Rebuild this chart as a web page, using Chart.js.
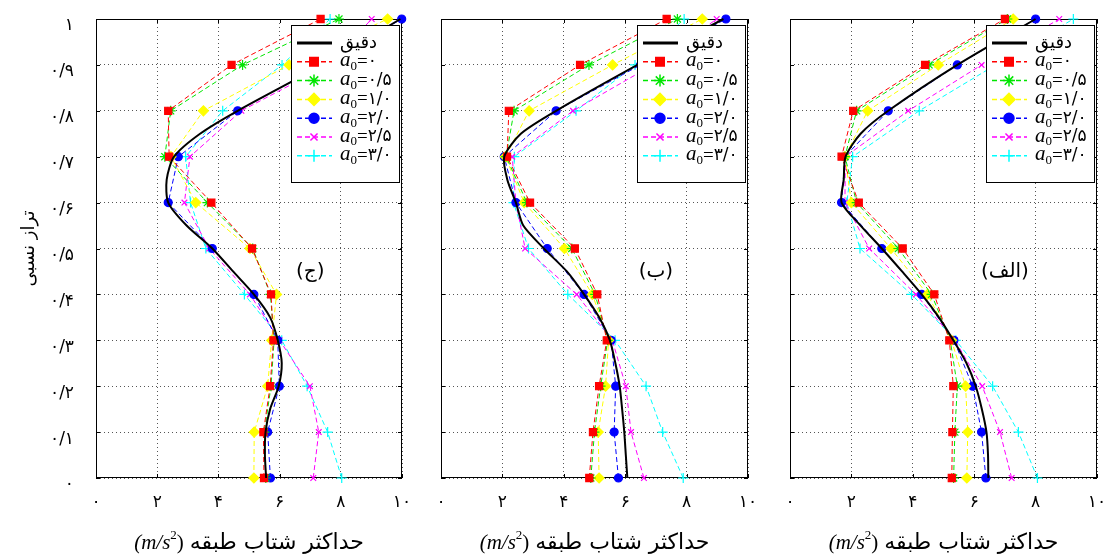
<!DOCTYPE html>
<html>
<head>
<meta charset="utf-8">
<script src="https://cdn.jsdelivr.net/npm/chart.js@4.4.1/dist/chart.umd.min.js"></script>
<style>
  body { margin: 0; background: #fff; width: 1106px; height: 556px; overflow: hidden; position: relative; }
  .panel { position: absolute; top: 0; height: 556px; }
</style>
</head>
<body>
<div class="panel" style="left:0;width:410px"><canvas id="chartJim" width="410" height="556"></canvas></div>
<div class="panel" style="left:410px;width:345px"><canvas id="chartBe" width="345" height="556"></canvas></div>
<div class="panel" style="left:755px;width:351px"><canvas id="chartAlef" width="351" height="556"></canvas></div>
<script>
// relative height levels of the markers and of the exact curve
var levels = [0, 0.1, 0.2, 0.3, 0.4, 0.5, 0.6, 0.7, 0.8, 0.9, 1.0];
var exactLevels = [0, 0.05, 0.1, 0.15, 0.2, 0.25, 0.3, 0.35, 0.4, 0.45, 0.5, 0.55, 0.6, 0.65, 0.7, 0.75, 0.8, 0.9, 1.0];

var exactLabel = 'دقیق';
var a0Labels = ['۰', '۰/۵', '۱/۰', '۲/۰', '۲/۵', '۳/۰'];
var xTickLabels = ['۰', '۲', '۴', '۶', '۸', '۱۰'];
var yTickLabels = ['۰', '۰/۱', '۰/۲', '۰/۳', '۰/۴', '۰/۵', '۰/۶', '۰/۷', '۰/۸', '۰/۹', '۱'];
var xTitle = 'حداکثر شتاب طبقه';
var yTitle = 'تراز نسبی';
var panelNames = ['(ج)', '(ب)', '(الف)'];

// panel (ج)
var jimExact = [5.56, 5.52, 5.54, 5.69, 5.97, 6.07, 5.94, 5.69, 5.16, 4.48, 3.80, 2.96, 2.36, 2.31, 2.55, 3.40, 4.63, 7.40, 9.95];
var jimA00 = [5.49, 5.47, 5.69, 5.80, 5.72, 5.10, 3.77, 2.39, 2.36, 4.43, 7.34];
var jimA05 = [5.55, 5.50, 5.72, 5.82, 5.70, 5.12, 3.64, 2.25, 2.44, 4.79, 7.94];
var jimA10 = [5.16, 5.17, 5.61, 5.74, 5.90, 5.03, 3.26, 2.45, 3.51, 6.31, 9.53];
var jimA20 = [5.70, 5.61, 5.99, 5.94, 5.16, 3.80, 2.36, 2.69, 4.63, 7.40, 9.99];
var jimA25 = [7.10, 7.28, 6.99, 6.00, 5.03, 3.70, 2.89, 3.07, 4.75, 7.60, 9.01];
var jimA30 = [8.03, 7.57, 6.90, 6.07, 4.85, 3.59, 3.09, 2.93, 4.14, 6.08, 7.65];

// panel (ب)
var beExact = [6.07, 6.02, 5.97, 5.90, 5.82, 5.68, 5.50, 5.15, 4.66, 4.10, 3.35, 2.68, 2.44, 2.16, 2.06, 2.60, 3.75, 6.40, 9.20];
var beA00 = [4.83, 4.95, 5.15, 5.40, 5.09, 4.36, 2.90, 2.15, 2.21, 4.53, 7.35];
var beA05 = [4.88, 5.00, 5.20, 5.43, 5.02, 4.26, 2.80, 2.12, 2.38, 4.82, 7.70];
var beA10 = [5.15, 5.12, 5.36, 5.46, 4.93, 4.02, 2.71, 2.10, 2.87, 5.59, 8.51];
var beA20 = [5.78, 5.64, 5.69, 5.54, 4.66, 3.46, 2.44, 2.06, 3.75, 6.50, 9.28];
var beA25 = [6.61, 6.19, 6.02, 5.58, 4.42, 2.74, 2.44, 2.32, 4.30, 6.90, 8.98];
var beA30 = [7.89, 7.22, 6.68, 5.67, 4.13, 2.85, 2.36, 2.39, 4.40, 6.32, 7.92];

// panel (الف)
var alefExact = [6.46, 6.45, 6.40, 6.25, 6.05, 5.75, 5.32, 4.85, 4.29, 3.65, 2.99, 2.30, 1.68, 1.75, 1.81, 2.30, 3.20, 5.45, 8.00];
var alefA00 = [5.27, 5.29, 5.32, 5.19, 4.70, 3.67, 2.24, 1.68, 2.06, 4.40, 7.00];
var alefA05 = [5.33, 5.37, 5.45, 5.22, 4.61, 3.53, 2.17, 1.79, 2.17, 4.53, 7.08];
var alefA10 = [5.76, 5.79, 5.72, 5.26, 4.48, 3.29, 2.00, 1.79, 2.53, 4.83, 7.27];
var alefA20 = [6.38, 6.24, 5.95, 5.34, 4.29, 2.99, 1.68, 1.79, 3.20, 5.45, 8.00];
var alefA25 = [7.22, 6.84, 6.26, 5.37, 4.10, 2.58, 1.79, 1.80, 3.85, 6.24, 8.77];
var alefA30 = [8.06, 7.44, 6.60, 5.40, 3.96, 2.28, 1.85, 2.04, 4.21, 6.70, 9.23];

var seriesColors = ['#ff0000', '#00e600', '#ffff00', '#0000ff', '#ff00ff', '#00ffff'];
var seriesPoints = ['rect', 'star', 'rectRot', 'circle', 'crossRot', 'cross'];
var seriesRadius = [5, 5, 5, 4, 4, 5];

// frame, inward ticks, legend, panel name and x title
var decorations = {
  id: 'decorations',
  beforeDatasetsDraw: function(chart) {
    var ctx = chart.ctx, a = chart.chartArea;
    var xs = chart.scales.x, ys = chart.scales.y;
    ctx.save();
    ctx.strokeStyle = '#000';
    ctx.lineWidth = 1;
    ctx.strokeRect(Math.round(a.left) + 0.5, Math.round(a.top) + 0.5, Math.round(a.right - a.left) - 1, Math.round(a.bottom - a.top) - 1);
    ctx.beginPath();
    xs.ticks.forEach(function(t) {
      var px = Math.round(xs.getPixelForValue(t.value)) + 0.5;
      ctx.moveTo(px, a.top); ctx.lineTo(px, a.top + 4);
      ctx.moveTo(px, a.bottom); ctx.lineTo(px, a.bottom - 4);
    });
    ys.ticks.forEach(function(t) {
      var py = Math.round(ys.getPixelForValue(t.value)) + 0.5;
      ctx.moveTo(a.left, py); ctx.lineTo(a.left + 4, py);
      ctx.moveTo(a.right, py); ctx.lineTo(a.right - 4, py);
    });
    ctx.stroke();
    ctx.restore();
  },
  afterDatasetsDraw: function(chart, args, opts) {
    var ctx = chart.ctx, a = chart.chartArea;
    var xs = chart.scales.x, ys = chart.scales.y;
    ctx.save();

    // legend box
    var w = 108, h = 157;
    var left = Math.round(a.right - 3 - w), top = Math.round(a.top + 6);
    ctx.fillStyle = '#fff';
    ctx.fillRect(left, top, w, h);
    ctx.strokeStyle = '#000';
    ctx.lineWidth = 1;
    ctx.strokeRect(left + 0.5, top + 0.5, w, h);
    chart.data.datasets.forEach(function(ds, i) {
      var y = top + 18 + i * 18.8;
      ctx.strokeStyle = ds.borderColor;
      ctx.lineWidth = i === 0 ? 3 : 1.5;
      ctx.setLineDash(i === 0 ? [] : [5, 3]);
      ctx.beginPath();
      ctx.moveTo(left + 6, y);
      ctx.lineTo(left + 41, y);
      ctx.stroke();
      ctx.setLineDash([]);
      if (i > 0) {
        ctx.fillStyle = ds.backgroundColor;
        ctx.strokeStyle = ds.borderColor;
        ctx.lineWidth = 1.5;
        Chart.helpers.drawPoint(ctx, { pointStyle: ds.pointStyle, radius: ds.pointRadius + 1, rotation: 0, borderWidth: 1.5 }, left + 23, y);
      }
      ctx.fillStyle = '#000';
      ctx.textBaseline = 'middle';
      ctx.textAlign = 'left';
      var tx = left + 49;
      if (i === 0) {
        ctx.font = '18px "DejaVu Sans"';
        ctx.fillText(ds.label, tx, y);
      } else {
        ctx.font = 'italic 21px "Liberation Serif"';
        ctx.fillText('a', tx, y - 1);
        tx += ctx.measureText('a').width;
        ctx.font = '13px "Liberation Serif"';
        ctx.fillText('0', tx, y + 5);
        tx += ctx.measureText('0').width;
        ctx.font = '19px "Liberation Serif"';
        ctx.fillText('=', tx, y);
        tx += ctx.measureText('=').width;
        ctx.font = '17px "DejaVu Sans"';
        ctx.fillText(ds.label, tx, y);
      }
    });

    // panel name
    ctx.fillStyle = '#000';
    ctx.textAlign = 'center';
    ctx.textBaseline = 'middle';
    ctx.font = '20px "DejaVu Sans"';
    ctx.fillText(opts.name, xs.getPixelForValue(7.0), ys.getPixelForValue(0.45));

    // x title: Persian text with the unit in italics on its left
    var cy = 543;
    ctx.font = '22px "DejaVu Sans"';
    var wFa = ctx.measureText(xTitle).width;
    ctx.font = 'italic 21px "Liberation Serif"';
    var wU1 = ctx.measureText('(m/s').width;
    ctx.font = '13px "Liberation Serif"';
    var wSup = ctx.measureText('2').width;
    ctx.font = '21px "Liberation Serif"';
    var wU2 = ctx.measureText(')').width;
    var gap = 6;
    var total = wU1 + wSup + wU2 + gap + wFa;
    var x0 = (a.left + a.right) / 2 - total / 2;
    ctx.textAlign = 'left';
    ctx.font = 'italic 21px "Liberation Serif"';
    ctx.fillText('(m/s', x0, cy);
    ctx.font = '13px "Liberation Serif"';
    ctx.fillText('2', x0 + wU1, cy - 7);
    ctx.font = '21px "Liberation Serif"';
    ctx.fillText(')', x0 + wU1 + wSup, cy);
    ctx.font = '22px "DejaVu Sans"';
    ctx.fillText(xTitle, x0 + wU1 + wSup + wU2 + gap, cy);
    ctx.restore();
  }
};

function buildChart(canvasId, name, exact, series, yWidth, rightPad, showY) {
  var datasets = [{
    label: exactLabel,
    data: exactLevels.map(function(h, i) { return { x: exact[i], y: h }; }),
    showLine: true,
    borderColor: '#000',
    backgroundColor: '#000',
    borderWidth: 2,
    pointRadius: 0,
    tension: 0.25,
    clip: false
  }];
  series.forEach(function(vals, k) {
    datasets.push({
      label: a0Labels[k],
      data: levels.map(function(h, i) { return { x: vals[i], y: h }; }),
      showLine: true,
      borderColor: seriesColors[k],
      backgroundColor: seriesColors[k],
      borderWidth: 1,
      borderDash: [5, 3],
      pointStyle: seriesPoints[k],
      pointRadius: seriesRadius[k],
      pointBorderWidth: 1.2,
      tension: 0,
      clip: false
    });
  });

  return new Chart(document.getElementById(canvasId), {
    type: 'scatter',
    data: { datasets: datasets },
    options: {
      responsive: false,
      animation: false,
      events: [],
      layout: { padding: { top: 19, right: rightPad, left: 0, bottom: 0 } },
      plugins: {
        legend: { display: false },
        tooltip: { enabled: false },
        decorations: { name: name }
      },
      scales: {
        x: {
          type: 'linear', min: 0, max: 10,
          afterFit: function(s) { s.height = 78; s.paddingLeft = 0; s.paddingRight = 0; },
          ticks: {
            stepSize: 2,
            padding: 14,
            color: '#000',
            font: { family: 'DejaVu Sans', size: 17 },
            callback: function(v) { return xTickLabels[Math.round(v / 2)]; }
          },
          grid: { color: '#555', lineWidth: 1, drawTicks: false },
          border: { display: false, dash: [1, 3] }
        },
        y: {
          type: 'linear', min: 0, max: 1,
          afterFit: function(s) { s.width = yWidth; s.paddingTop = 0; s.paddingBottom = 0; },
          ticks: {
            display: showY,
            stepSize: 0.1,
            padding: 22,
            labelOffset: 7,
            color: '#000',
            font: { family: 'DejaVu Sans', size: 17 },
            callback: function(v) { return yTickLabels[Math.round(v * 10)]; }
          },
          title: {
            display: showY,
            text: yTitle,
            color: '#000',
            font: { family: 'DejaVu Sans', size: 18 },
            padding: { top: 19, bottom: 0 }
          },
          grid: { color: '#555', lineWidth: 1, drawTicks: false },
          border: { display: false, dash: [1, 3] }
        }
      }
    },
    plugins: [decorations]
  });
}

buildChart('chartJim', panelNames[0], jimExact, [jimA00, jimA05, jimA10, jimA20, jimA25, jimA30], 96, 8, true);
buildChart('chartBe', panelNames[1], beExact, [beA00, beA05, beA10, beA20, beA25, beA30], 31, 7, false);
buildChart('chartAlef', panelNames[2], alefExact, [alefA00, alefA05, alefA10, alefA20, alefA25, alefA30], 35, 9, false);
</script>
</body>
</html>
